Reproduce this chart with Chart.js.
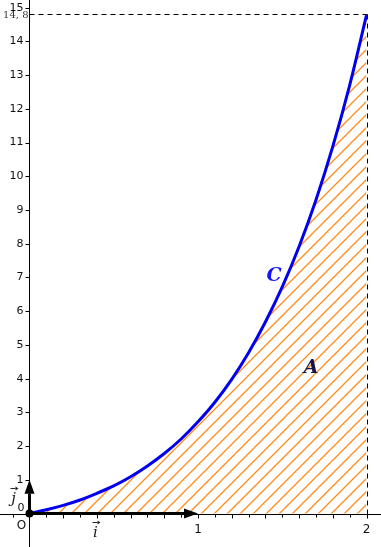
<!DOCTYPE html>
<html>
<head>
<meta charset="utf-8">
<script src="https://cdn.jsdelivr.net/npm/chart.js"></script>
<style>
  html, body { margin:0; padding:0; background:#fff; }
  canvas { display:block; }
</style>
</head>
<body>
<canvas id="graph" width="381" height="547"></canvas>
<script>
const xs = [0, 0.1, 0.2, 0.3, 0.4, 0.5, 0.6, 0.7, 0.8, 0.9, 1.0, 1.1, 1.2, 1.3, 1.4, 1.5, 1.6, 1.7, 1.8, 1.9, 2.0];
const ys = [0, 0.11, 0.24, 0.40, 0.60, 0.82, 1.09, 1.41, 1.78, 2.21, 2.72, 3.30, 3.98, 4.77, 5.68, 6.72, 7.92, 9.30, 10.89, 12.70, 14.78];

const yTicks = [1, 2, 3, 4, 5, 6, 7, 8, 9, 10, 11, 12, 13, 14, 15];
const xTicks = [1, 2];
const yMaxLabel = "14, 8";
const yMaxValue = 14.8;
const xEnd = 2;

// motif hachuré orange
function hachures() {
  const s = 13;
  const c = document.createElement("canvas");
  c.width = s; c.height = s;
  const g = c.getContext("2d");
  g.strokeStyle = "#ff8c1a";
  g.lineWidth = 1.3;
  g.beginPath();
  g.moveTo(0, s); g.lineTo(s, 0);
  g.moveTo(-2, 2); g.lineTo(2, -2);
  g.moveTo(s - 2, s + 2); g.lineTo(s + 2, s - 2);
  g.stroke();
  return g.createPattern(c, "repeat");
}

function fleche(ctx, x0, y0, x1, y1, L, W) {
  const a = Math.atan2(y1 - y0, x1 - x0);
  ctx.beginPath();
  ctx.moveTo(x0, y0);
  ctx.lineTo(x1 - L * Math.cos(a), y1 - L * Math.sin(a));
  ctx.stroke();
  ctx.beginPath();
  ctx.moveTo(x1, y1);
  ctx.lineTo(x1 - L * Math.cos(a) - W * Math.sin(a), y1 - L * Math.sin(a) + W * Math.cos(a));
  ctx.lineTo(x1 - L * Math.cos(a) + W * Math.sin(a), y1 - L * Math.sin(a) - W * Math.cos(a));
  ctx.closePath();
  ctx.fill();
}

// lettre surmontée d'une petite flèche
function vecteur(ctx, lettre, x, y) {
  ctx.fillText(lettre, x, y);
  ctx.save();
  ctx.lineWidth = 1;
  fleche(ctx, x - 3, y - 11, x + 5, y - 11, 3, 2);
  ctx.restore();
}

const repere = {
  id: "repere",
  beforeDatasetsDraw(chart) {
    const ctx = chart.ctx;
    const sx = chart.scales.x, sy = chart.scales.y;
    const ox = Math.round(sx.getPixelForValue(0)) + 0.5;
    const oy = Math.round(sy.getPixelForValue(0)) + 0.5;
    ctx.save();
    ctx.strokeStyle = "#000";
    ctx.lineWidth = 1;
    ctx.beginPath();
    ctx.moveTo(ox, 0); ctx.lineTo(ox, chart.height);
    ctx.moveTo(0, oy); ctx.lineTo(chart.width, oy);
    // graduations x tous les 0,1
    for (let k = -1; k <= 20; k++) {
      const px = Math.round(sx.getPixelForValue(k / 10)) + 0.5;
      if (k === 0) continue;
      ctx.moveTo(px, oy); ctx.lineTo(px, oy + (k % 2 === 0 ? 4 : 3));
    }
    yTicks.forEach(v => {
      const py = Math.round(sy.getPixelForValue(v)) + 0.5;
      ctx.moveTo(ox - 4, py); ctx.lineTo(ox, py);
    });
    ctx.stroke();

    // pointillés jusqu'à (2 ; 14,8)
    const px2 = Math.round(sx.getPixelForValue(xEnd)) + 0.5;
    const pyM = Math.round(sy.getPixelForValue(yMaxValue)) + 0.5;
    ctx.setLineDash([5, 4]);
    ctx.beginPath();
    ctx.moveTo(ox, pyM); ctx.lineTo(px2, pyM);
    ctx.moveTo(px2, pyM); ctx.lineTo(px2, oy);
    ctx.stroke();
    ctx.setLineDash([]);

    ctx.fillStyle = "#111";
    ctx.font = "11px 'DejaVu Sans'";
    ctx.textAlign = "right";
    ctx.textBaseline = "middle";
    yTicks.forEach(v => ctx.fillText(String(v), ox - 6, sy.getPixelForValue(v)));
    ctx.fillText("0", ox - 5, oy - 6);
    ctx.textAlign = "center";
    ctx.textBaseline = "top";
    ctx.font = "12px 'DejaVu Sans'";
    xTicks.forEach(v => ctx.fillText(String(v), sx.getPixelForValue(v), oy + 9));
    ctx.fillText("O", ox - 8, oy + 5);

    ctx.font = "10px 'DejaVu Serif'";
    ctx.textAlign = "right";
    ctx.textBaseline = "middle";
    ctx.fillStyle = "#333";
    ctx.fillText(yMaxLabel, ox - 1, pyM + 1);
    ctx.restore();
  },
  afterDatasetsDraw(chart) {
    const ctx = chart.ctx;
    const sx = chart.scales.x, sy = chart.scales.y;
    const ox = sx.getPixelForValue(0), oy = sy.getPixelForValue(0);
    ctx.save();
    ctx.strokeStyle = "#000";
    ctx.fillStyle = "#000";
    ctx.lineWidth = 3;
    fleche(ctx, ox, oy, sx.getPixelForValue(1), oy, 14, 5);
    fleche(ctx, ox, oy, ox, sy.getPixelForValue(1), 14, 5);
    ctx.beginPath();
    ctx.arc(ox, oy, 4, 0, Math.PI * 2);
    ctx.fill();

    ctx.font = "italic 15px 'DejaVu Serif'";
    ctx.textAlign = "center";
    ctx.textBaseline = "middle";
    ctx.fillStyle = "#222";
    ctx.strokeStyle = "#222";
    vecteur(ctx, "i", ox + 66, oy + 20);
    vecteur(ctx, "j", ox - 16, oy - 14);

    ctx.font = "bold italic 19px 'DejaVu Serif'";
    ctx.fillStyle = "#1414ff";
    ctx.fillText("C", 274, 276);
    ctx.fillStyle = "#14144a";
    ctx.fillText("A", 311, 368);
    ctx.restore();
  }
};

new Chart(document.getElementById("graph"), {
  type: "line",
  data: {
    labels: xs,
    datasets: [{
      data: xs.map((x, i) => ({ x: x, y: ys[i] })),
      borderColor: "#0000ee",
      borderWidth: 3,
      pointRadius: 0,
      cubicInterpolationMode: "monotone",
      fill: "origin",
      backgroundColor: hachures()
    }]
  },
  options: {
    responsive: false,
    animation: false,
    layout: { padding: 0 },
    plugins: { legend: { display: false }, tooltip: { enabled: false } },
    scales: {
      x: { type: "linear", min: -0.175, max: 2.086, display: false },
      y: { min: -0.993, max: 15.23, display: false }
    }
  },
  plugins: [repere]
});
</script>
</body>
</html>
